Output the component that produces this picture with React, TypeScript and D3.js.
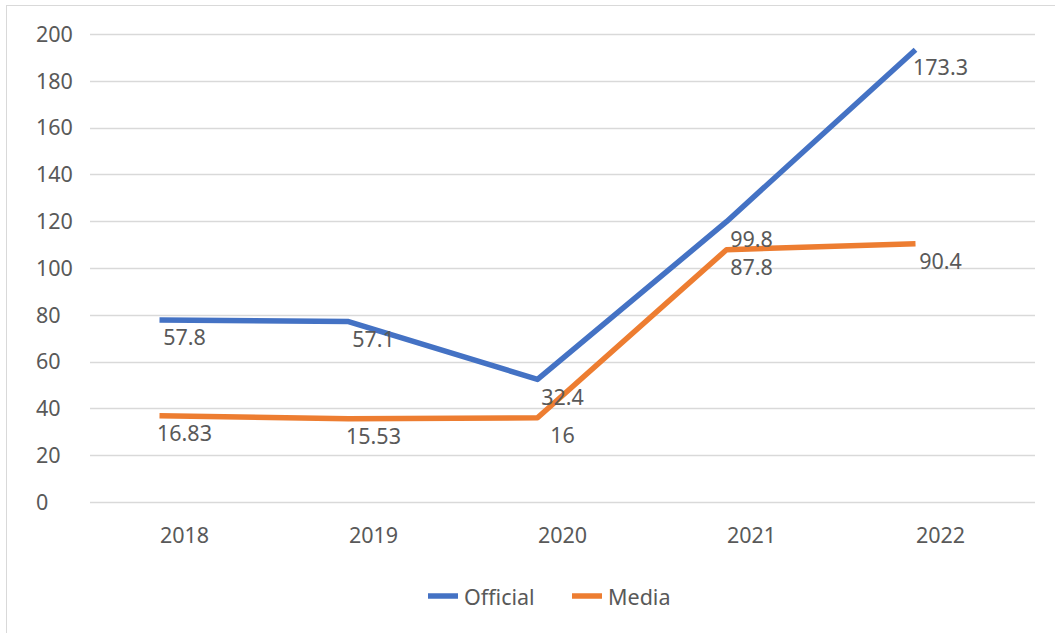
import { useEffect, useRef } from "react";
import * as d3 from "d3";

const years = ["2018", "2019", "2020", "2021", "2022"];
// values as shown in the data labels
const official = [57.8, 57.1, 32.4, 99.8, 173.3];
const media = [16.83, 15.53, 16, 87.8, 90.4];
// the axis in the reference reads 20 higher than the labels
const yTickValues = [-20, 0, 20, 40, 60, 80, 100, 120, 140, 160, 180];
const yTickLabels = ["0", "20", "40", "60", "80", "100", "120", "140", "160", "180", "200"];

const W = 1055;
const H = 633;
const FONT = "'Noto Sans', 'Open Sans', sans-serif";
const TEXT = "#595959";
const FS = 21.5;

const App = () => {
  const ref = useRef<SVGSVGElement | null>(null);

  useEffect(() => {
    const svg = d3.select(ref.current);
    svg.selectAll("*").remove();

    svg
      .append("rect")
      .attr("x", 6.5)
      .attr("y", 5.5)
      .attr("width", W + 10)
      .attr("height", H + 10)
      .attr("fill", "#fff")
      .attr("stroke", "#d9d9d9");

    const x = d3.scaleBand<string>().domain(years).range([90, 1035]);
    const y = d3.scaleLinear().domain([-20, 180]).range([502, 34]);
    const cx = (c: string) => (x(c) as number) + x.bandwidth() / 2;
    const lineShift = -25;

    // grid
    svg
      .append("g")
      .selectAll("line")
      .data(yTickValues)
      .enter()
      .append("line")
      .attr("x1", 90)
      .attr("x2", 1035)
      .attr("y1", (d) => Math.round(y(d)) + 0.5)
      .attr("y2", (d) => Math.round(y(d)) + 0.5)
      .attr("stroke", "#d9d9d9")
      .attr("stroke-width", 1.5);

    svg
      .append("g")
      .selectAll("text")
      .data(yTickValues)
      .enter()
      .append("text")
      .attr("x", 36)
      .attr("y", (d) => y(d))
      .attr("dy", "0.36em")
      .text((_, i) => yTickLabels[i])
      .attr("font-family", FONT)
      .attr("font-size", FS)
      .attr("fill", TEXT);

    svg
      .append("g")
      .selectAll("text")
      .data(years)
      .enter()
      .append("text")
      .attr("x", (d) => cx(d))
      .attr("y", 535)
      .attr("dy", "0.36em")
      .attr("text-anchor", "middle")
      .text((d) => d)
      .attr("font-family", FONT)
      .attr("font-size", FS)
      .attr("fill", TEXT);

    const series = [
      { name: "Official", values: official, color: "#4472C4" },
      { name: "Media", values: media, color: "#ED7D31" },
    ];

    const line = d3
      .line<number>()
      .x((_, i) => cx(years[i]) + lineShift)
      .y((d) => y(d));

    series.forEach((s) => {
      svg
        .append("path")
        .attr("d", line(s.values) as string)
        .attr("fill", "none")
        .attr("stroke", s.color)
        .attr("stroke-width", 5.5)
        .attr("stroke-linejoin", "round");
    });

    series.forEach((s) => {
      svg
        .append("g")
        .selectAll("text")
        .data(s.values)
        .enter()
        .append("text")
        .attr("x", (_, i) => cx(years[i]))
        .attr("y", (d) => y(d) + 17.5)
        .attr("dy", "0.36em")
        .attr("text-anchor", "middle")
        .text((d) => String(d))
        .attr("font-family", FONT)
        .attr("font-size", FS)
        .attr("fill", TEXT);
    });

    // legend
    const legend = svg.append("g");
    const legendX = [428, 572];
    series.forEach((s, i) => {
      legend
        .append("line")
        .attr("x1", legendX[i])
        .attr("x2", legendX[i] + 30)
        .attr("y1", 596)
        .attr("y2", 596)
        .attr("stroke", s.color)
        .attr("stroke-width", 5.5);
      legend
        .append("text")
        .attr("x", legendX[i] + 36)
        .attr("y", 597)
        .attr("dy", "0.36em")
        .text(s.name)
        .attr("font-family", FONT)
        .attr("font-size", FS)
        .attr("fill", TEXT);
    });
  }, []);

  return (
    <svg
      ref={ref}
      width={W}
      height={H}
      style={{ position: "absolute", left: 0, top: 0, display: "block" }}
    />
  );
};

export default App;
